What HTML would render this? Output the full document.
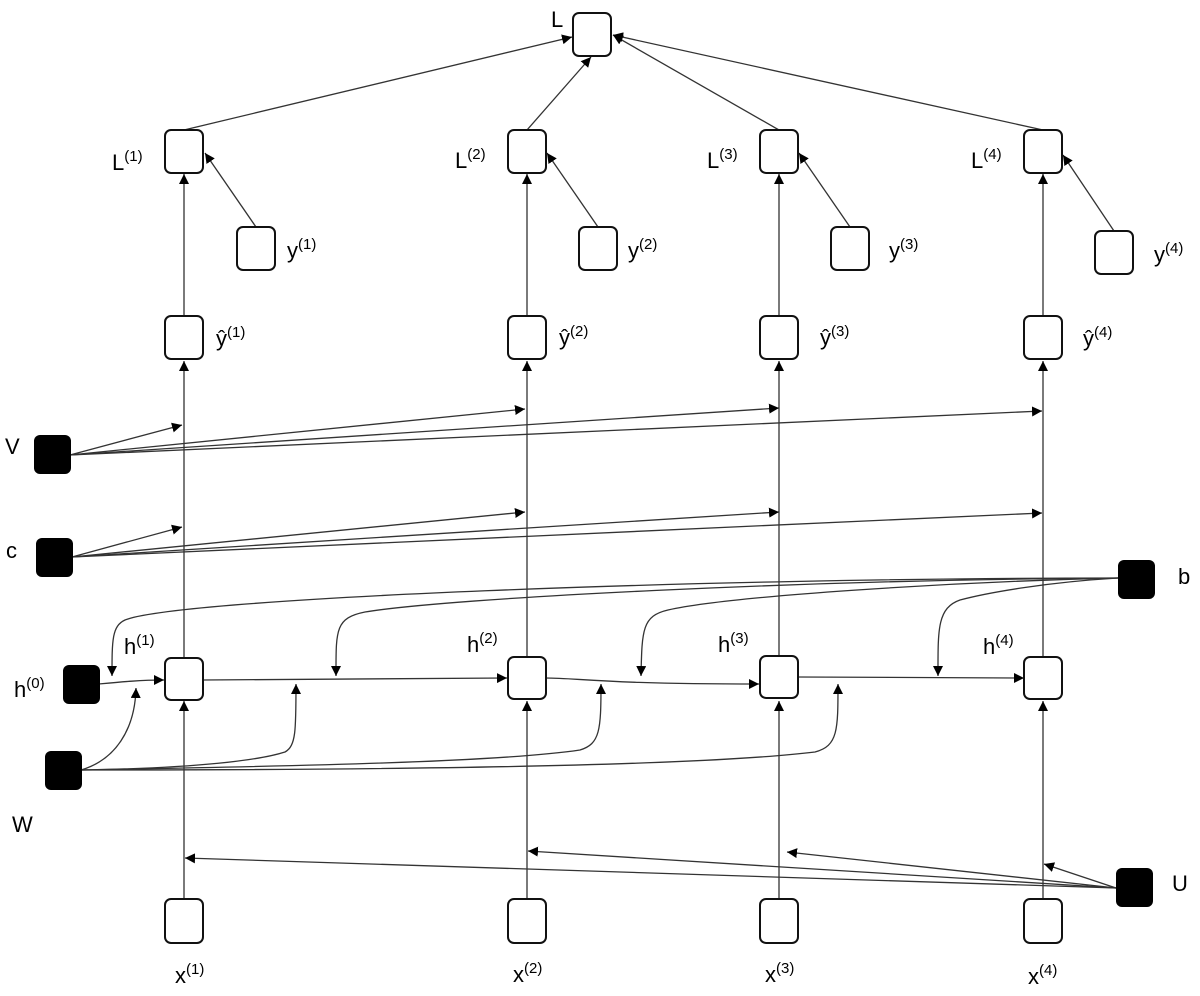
<!DOCTYPE html>
<html><head><meta charset="utf-8"><style>
html,body{margin:0;padding:0;background:#fff;}
svg{display:block;}
text{font-family:"Liberation Sans",sans-serif;font-size:22px;fill:#000;}
.s{font-size:15px;}
</style></head><body>
<svg width="1200" height="996" viewBox="0 0 1200 996" xmlns="http://www.w3.org/2000/svg">
<defs>
<marker id="a" viewBox="0 0 10 10" refX="10" refY="5" markerWidth="10" markerHeight="10" markerUnits="userSpaceOnUse" orient="auto"><path d="M0,0L10,5L0,10z" fill="#000"/></marker>
</defs>
<g fill="none" stroke="#333" stroke-width="1.3">
<line x1="184" y1="899" x2="184" y2="701" marker-end="url(#a)"/>
<line x1="527" y1="899" x2="527" y2="701" marker-end="url(#a)"/>
<line x1="779" y1="899" x2="779" y2="701" marker-end="url(#a)"/>
<line x1="1043" y1="899" x2="1043" y2="701" marker-end="url(#a)"/>
<line x1="184" y1="658" x2="184" y2="361" marker-end="url(#a)"/>
<line x1="527" y1="658" x2="527" y2="361" marker-end="url(#a)"/>
<line x1="779" y1="658" x2="779" y2="361" marker-end="url(#a)"/>
<line x1="1043" y1="658" x2="1043" y2="361" marker-end="url(#a)"/>
<line x1="184" y1="316" x2="184" y2="174" marker-end="url(#a)"/>
<line x1="527" y1="316" x2="527" y2="174" marker-end="url(#a)"/>
<line x1="779" y1="316" x2="779" y2="174" marker-end="url(#a)"/>
<line x1="1043" y1="316" x2="1043" y2="174" marker-end="url(#a)"/>
<line x1="256" y1="227" x2="205" y2="153" marker-end="url(#a)"/>
<line x1="598" y1="227" x2="547" y2="153" marker-end="url(#a)"/>
<line x1="850" y1="227" x2="799" y2="153" marker-end="url(#a)"/>
<line x1="1114" y1="231" x2="1063" y2="155" marker-end="url(#a)"/>
<line x1="184" y1="130" x2="572" y2="37" marker-end="url(#a)"/>
<line x1="527" y1="130" x2="591" y2="57" marker-end="url(#a)"/>
<line x1="779" y1="130" x2="613" y2="35" marker-end="url(#a)"/>
<line x1="1043" y1="130" x2="613" y2="35" marker-end="url(#a)"/>
<line x1="70" y1="455" x2="182" y2="425" marker-end="url(#a)"/>
<line x1="70" y1="455" x2="525" y2="409" marker-end="url(#a)"/>
<line x1="70" y1="455" x2="779" y2="408" marker-end="url(#a)"/>
<line x1="70" y1="455" x2="1042" y2="411" marker-end="url(#a)"/>
<line x1="72" y1="557" x2="182" y2="527" marker-end="url(#a)"/>
<line x1="72" y1="557" x2="525" y2="512" marker-end="url(#a)"/>
<line x1="72" y1="557" x2="779" y2="512" marker-end="url(#a)"/>
<line x1="72" y1="557" x2="1042" y2="513" marker-end="url(#a)"/>
<path d="M1118,578 C700,578 180,598 125,620 C112,626 112,640 112,676" marker-end="url(#a)"/>
<path d="M1118,578 C800,580 450,598 365,612 C335,618 336,630 336,676" marker-end="url(#a)"/>
<path d="M1118,578 C950,582 730,596 668,610 C642,616 642,630 641,676" marker-end="url(#a)"/>
<path d="M1118,578 C1050,582 990,592 960,600 C937,608 938,630 938,676" marker-end="url(#a)"/>
<path d="M99,684 C120,682 140,680 164,680" marker-end="url(#a)"/>
<line x1="203" y1="680" x2="507" y2="678" marker-end="url(#a)"/>
<path d="M545,678 C580,678 600,684 759,684" marker-end="url(#a)"/>
<line x1="797" y1="677" x2="1024" y2="678" marker-end="url(#a)"/>
<path d="M81,770 C115,760 135,730 136,688" marker-end="url(#a)"/>
<path d="M81,770 C200,768 260,760 285,752 C296,746 296,730 296,684" marker-end="url(#a)"/>
<path d="M81,770 C300,766 500,762 580,750 C600,744 601,730 601,684" marker-end="url(#a)"/>
<path d="M81,770 C400,770 700,766 815,752 C838,746 838,730 838,684" marker-end="url(#a)"/>
<line x1="1116" y1="888" x2="185" y2="858" marker-end="url(#a)"/>
<line x1="1116" y1="888" x2="528" y2="851" marker-end="url(#a)"/>
<line x1="1116" y1="888" x2="787" y2="852" marker-end="url(#a)"/>
<line x1="1116" y1="888" x2="1044" y2="864" marker-end="url(#a)"/>
</g>
<g fill="#fff" stroke="#111" stroke-width="2">
<rect x="573" y="13" width="38" height="43" rx="6"/>
<rect x="165" y="130" width="38" height="43" rx="6"/>
<rect x="508" y="130" width="38" height="43" rx="6"/>
<rect x="760" y="130" width="38" height="43" rx="6"/>
<rect x="1024" y="130" width="38" height="43" rx="6"/>
<rect x="237" y="227" width="38" height="43" rx="6"/>
<rect x="579" y="227" width="38" height="43" rx="6"/>
<rect x="831" y="227" width="38" height="43" rx="6"/>
<rect x="1095" y="231" width="38" height="43" rx="6"/>
<rect x="165" y="316" width="38" height="43" rx="6"/>
<rect x="508" y="316" width="38" height="43" rx="6"/>
<rect x="760" y="316" width="38" height="43" rx="6"/>
<rect x="1024" y="316" width="38" height="43" rx="6"/>
<rect x="165" y="658" width="38" height="42" rx="6"/>
<rect x="508" y="657" width="38" height="42" rx="6"/>
<rect x="760" y="656" width="38" height="42" rx="6"/>
<rect x="1024" y="657" width="38" height="42" rx="6"/>
<rect x="165" y="899" width="38" height="44" rx="6"/>
<rect x="508" y="899" width="38" height="44" rx="6"/>
<rect x="760" y="899" width="38" height="44" rx="6"/>
<rect x="1024" y="899" width="38" height="44" rx="6"/>
</g>
<g fill="#000">
<rect x="34" y="435" width="37" height="39" rx="6"/>
<rect x="36" y="538" width="37" height="39" rx="6"/>
<rect x="1118" y="560" width="37" height="39" rx="6"/>
<rect x="63" y="665" width="37" height="39" rx="6"/>
<rect x="45" y="751" width="37" height="39" rx="6"/>
<rect x="1116" y="868" width="37" height="39" rx="6"/>
</g>
<text x="551" y="27">L</text>
<text x="112" y="170">L<tspan class="s" dy="-9">(1)</tspan></text>
<text x="455" y="168">L<tspan class="s" dy="-9">(2)</tspan></text>
<text x="707" y="168">L<tspan class="s" dy="-9">(3)</tspan></text>
<text x="971" y="168">L<tspan class="s" dy="-9">(4)</tspan></text>
<text x="287" y="258">y<tspan class="s" dy="-9">(1)</tspan></text>
<text x="628" y="258">y<tspan class="s" dy="-9">(2)</tspan></text>
<text x="889" y="258">y<tspan class="s" dy="-9">(3)</tspan></text>
<text x="1154" y="262">y<tspan class="s" dy="-9">(4)</tspan></text>
<text x="216" y="346">ŷ<tspan class="s" dy="-9">(1)</tspan></text>
<text x="559" y="345">ŷ<tspan class="s" dy="-9">(2)</tspan></text>
<text x="820" y="345">ŷ<tspan class="s" dy="-9">(3)</tspan></text>
<text x="1083" y="346">ŷ<tspan class="s" dy="-9">(4)</tspan></text>
<text x="5" y="454">V</text>
<text x="6" y="558">c</text>
<text x="1178" y="584">b</text>
<text x="14" y="697">h<tspan class="s" dy="-9">(0)</tspan></text>
<text x="124" y="654">h<tspan class="s" dy="-9">(1)</tspan></text>
<text x="467" y="652">h<tspan class="s" dy="-9">(2)</tspan></text>
<text x="718" y="652">h<tspan class="s" dy="-9">(3)</tspan></text>
<text x="983" y="654">h<tspan class="s" dy="-9">(4)</tspan></text>
<text x="12" y="832">W</text>
<text x="1172" y="891">U</text>
<text x="175" y="983">x<tspan class="s" dy="-9">(1)</tspan></text>
<text x="513" y="982">x<tspan class="s" dy="-9">(2)</tspan></text>
<text x="765" y="982">x<tspan class="s" dy="-9">(3)</tspan></text>
<text x="1028" y="984">x<tspan class="s" dy="-9">(4)</tspan></text>
</svg>
</body></html>
